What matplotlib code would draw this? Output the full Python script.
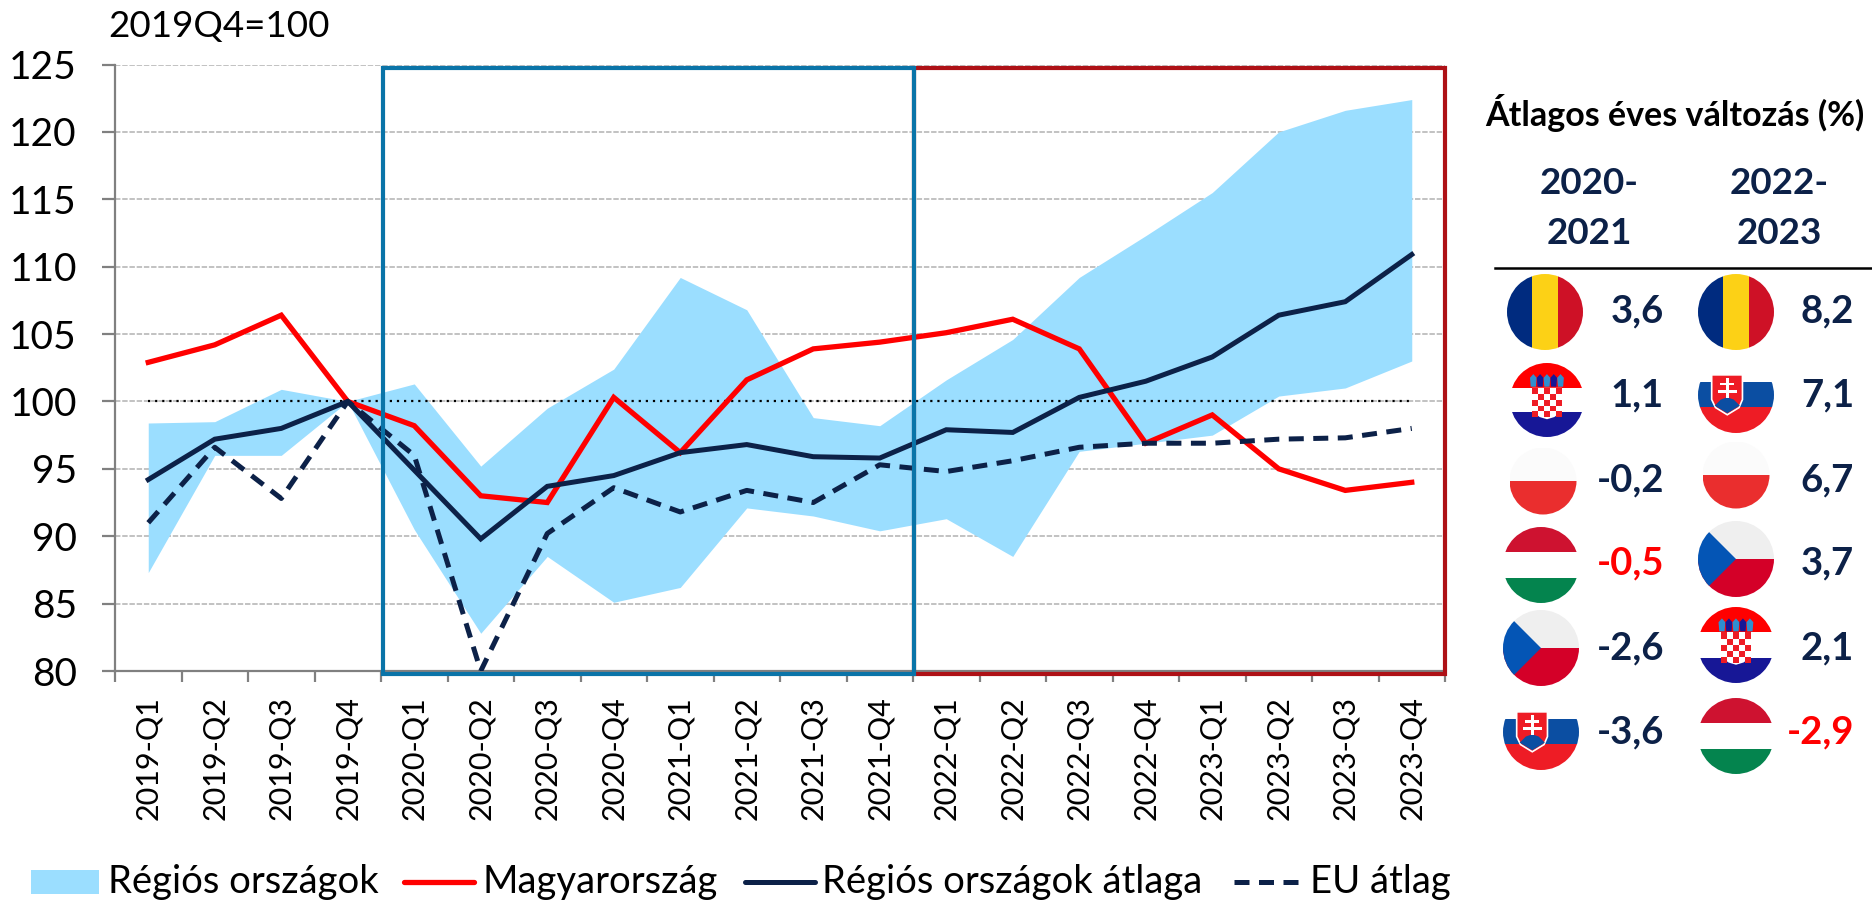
import matplotlib
matplotlib.use("Agg")
import matplotlib.pyplot as plt
from matplotlib.patches import Circle, Rectangle, Polygon

plt.rcParams['font.family'] = ['Lato', 'DejaVu Sans']

# Chart data
quarters = ['2019-Q1', '2019-Q2', '2019-Q3', '2019-Q4',
            '2020-Q1', '2020-Q2', '2020-Q3', '2020-Q4',
            '2021-Q1', '2021-Q2', '2021-Q3', '2021-Q4',
            '2022-Q1', '2022-Q2', '2022-Q3', '2022-Q4',
            '2023-Q1', '2023-Q2', '2023-Q3', '2023-Q4']
hungary = [102.9, 104.2, 106.4, 100.0, 98.2, 93.0, 92.5, 100.3, 96.2, 101.6,
           103.9, 104.4, 105.1, 106.1, 103.9, 96.9, 99.0, 95.0, 93.4, 94.0]
region_avg = [94.2, 97.2, 98.0, 100.0, 94.9, 89.8, 93.7, 94.5, 96.2, 96.8,
              95.9, 95.8, 97.9, 97.7, 100.3, 101.5, 103.3, 106.4, 107.4, 110.9]
eu_avg = [91.0, 96.6, 92.8, 100.0, 96.0, 80.0, 90.2, 93.6, 91.8, 93.4,
          92.5, 95.3, 94.8, 95.6, 96.6, 96.9, 96.9, 97.2, 97.3, 98.0]
region_high = [98.4, 98.5, 100.9, 100.0, 101.3, 95.2, 99.5, 102.4, 109.2, 106.8,
               98.8, 98.2, 101.6, 104.6, 109.2, 112.3, 115.5, 120.0, 121.6, 122.4]
region_low = [87.3, 96.0, 96.0, 100.0, 90.5, 82.8, 88.5, 85.1, 86.2, 92.1,
              91.5, 90.4, 91.3, 88.5, 96.3, 96.9, 97.5, 100.4, 101.0, 103.0]
y_ticks = [80, 85, 90, 95, 100, 105, 110, 115, 120, 125]

# Side table
countries_2021 = ['RO', 'HR', 'PL', 'HU', 'CZ', 'SK']
values_2021 = ['3,6', '1,1', '-0,2', '-0,5', '-2,6', '-3,6']
countries_2023 = ['RO', 'SK', 'PL', 'CZ', 'HR', 'HU']
values_2023 = ['8,2', '7,1', '6,7', '3,7', '2,1', '-2,9']

NAVY = '#0C2148'
RED = '#FF0000'
W, H = 1872, 902

fig = plt.figure(figsize=(W / 100, H / 100), dpi=100)
L, R, T, B = 115, 1445, 64.5, 671
ax = fig.add_axes([L / W, 1 - B / H, (R - L) / W, (B - T) / H])

xs = list(range(len(quarters)))
ax.fill_between(xs, region_low, region_high, color='#9BDEFF', lw=0, zorder=2)
ax.plot([0, 19], [100, 100], color='black', ls=(0, (1, 2.2)), lw=1.6, zorder=3)
ax.plot(xs, hungary, color=RED, lw=3.8, zorder=5, solid_joinstyle='miter')
ax.plot(xs, region_avg, color=NAVY, lw=3.6, zorder=6, solid_joinstyle='miter')
ax.plot(xs, eu_avg, color=NAVY, lw=3.6, ls=(0, (3.0, 1.9)), zorder=6)

ax.set_xlim(-0.5, 19.5)
ax.set_ylim(80, 125)
ax.set_yticks(y_ticks)
ax.tick_params(axis='y', labelsize=28, length=9.5, width=1.6, color='#808080', pad=18)
ax.set_xticks([i - 0.5 for i in range(21)])
ax.set_xticklabels([])
ax.tick_params(axis='x', which='major', length=8, width=1.6, color='#808080')
ax.set_xticks(xs, minor=True)
ax.set_xticklabels(quarters, minor=True, rotation=90, fontsize=22)
ax.tick_params(axis='x', which='minor', length=0, pad=18)
ax.grid(axis='y', color='#BDBDBD', ls=(0, (3, 1)), lw=1.3, zorder=1)
ax.set_axisbelow(True)
for side in ['top', 'right']:
    ax.spines[side].set_visible(False)
for side in ['left', 'bottom']:
    ax.spines[side].set_color('#808080')
    ax.spines[side].set_linewidth(1.6)

# The two period boxes
ax.add_patch(Rectangle((11.52, 79.75), 7.98, 45.0, fill=False, ec='#AE1116', lw=3, clip_on=False, zorder=7))
ax.add_patch(Rectangle((3.53, 79.75), 7.99, 45.0, fill=False, ec='#0A74A8', lw=3, clip_on=False, zorder=8))

# Overlay in pixel coordinates for legend, table and flags
ov = fig.add_axes([0, 0, 1, 1])
ov.set_xlim(0, W)
ov.set_ylim(H, 0)
ov.axis('off')
ov.patch.set_alpha(0)

ov.text(108, 27, '2019Q4=100', fontsize=26.5, va='center', ha='left')

# Legend
leg_y = 882
ov.add_patch(Rectangle((31, 870), 68, 24, fc='#9BDEFF', ec='none'))
ov.text(108, leg_y, 'Régiós országok', fontsize=27.5, va='center', ha='left')
ov.plot([404, 474], [leg_y, leg_y], color=RED, lw=3.8, solid_capstyle='round')
ov.text(482, leg_y, 'Magyarország', fontsize=27.5, va='center', ha='left')
ov.plot([745, 815], [leg_y, leg_y], color=NAVY, lw=3.6, solid_capstyle='round')
ov.text(822, leg_y, 'Régiós országok átlaga', fontsize=27.5, va='center', ha='left')
ov.plot([1234, 1304], [leg_y, leg_y], color=NAVY, lw=3.6, ls=(0, (3.0, 1.9)))
ov.text(1310, leg_y, 'EU átlag', fontsize=27.5, va='center', ha='left')


def flag(kind, cx, cy, r):
    clip = Circle((cx, cy), r, transform=ov.transData)

    def band(x0, y0, w, h, col, z=10):
        p = Rectangle((cx + x0 * r, cy + y0 * r), w * r, h * r, fc=col, ec='none', zorder=z)
        ov.add_patch(p)
        p.set_clip_path(clip)

    def poly(pts, col, z=10, ec='none', lw=0):
        p = Polygon([(cx + a * r, cy + b * r) for a, b in pts], fc=col, ec=ec, lw=lw, zorder=z)
        ov.add_patch(p)
        p.set_clip_path(clip)

    if kind == 'RO':
        band(-1, -1, 2 / 3, 2, '#002B7F')
        band(-1 / 3, -1, 2 / 3, 2, '#FCD116')
        band(1 / 3, -1, 2 / 3, 2, '#CE1126')
    elif kind == 'HU':
        band(-1, -1, 2, 2 / 3, '#CE1230')
        band(-1, -1 / 3, 2, 2 / 3, 'white')
        band(-1, 1 / 3, 2, 2 / 3, '#04844E')
    elif kind == 'PL':
        band(-1, -1, 2, 1, '#FBFBFB')
        band(-1, 0, 2, 1, '#EA2E2E')
    elif kind == 'CZ':
        band(-1, -1, 2, 1, '#EFEFEF')
        band(-1, 0, 2, 1, '#D40028')
        poly([(-1, -1), (0, 0), (-1, 1)], '#0455B5', 11)
    elif kind == 'HR':
        band(-1, -1, 2, 2 / 3, '#FF0000')
        band(-1, -1 / 3, 2, 2 / 3, 'white')
        band(-1, 1 / 3, 2, 2 / 3, '#171796')
        # crown row and chequered shield
        for i in range(5):
            x0 = -0.46 + i * 0.184
            poly([(x0 + 0.02, -0.36), (x0, -0.6), (x0 + 0.09, -0.7), (x0 + 0.18, -0.6), (x0 + 0.16, -0.36)],
                 ['#2F8FD0', '#171796', '#2F8FD0', '#171796', '#2F8FD0'][i], 12)
        poly([(-0.4, -0.33), (0.4, -0.33), (0.4, 0.3), (0.2, 0.46), (0, 0.52), (-0.2, 0.46), (-0.4, 0.3)], 'white', 12)
        for row in range(5):
            for col in range(5):
                if (row + col) % 2 == 0:
                    band(-0.4 + col * 0.16, -0.33 + row * 0.16, 0.16, 0.16, '#EE1C25', 13)
    elif kind == 'SK':
        band(-1, -1, 2, 0.65, 'white')
        band(-1, -0.35, 2, 0.67, '#0B4EA2')
        band(-1, 0.32, 2, 0.7, '#EE1C25')
        sh = [(-0.64, -0.53), (0.17, -0.53), (0.17, 0.12), (0.08, 0.33), (-0.23, 0.52),
              (-0.54, 0.33), (-0.64, 0.12)]
        poly(sh, '#EE1C25', 12, ec='white', lw=1.2)
        poly([(-0.56, 0.28), (-0.4, 0.12), (-0.23, 0.06), (-0.06, 0.12), (0.1, 0.28),
              (-0.23, 0.48)], '#0B4EA2', 13)
        band(-0.27, -0.46, 0.08, 0.54, 'white', 14)
        band(-0.42, -0.32, 0.38, 0.07, 'white', 14)
        band(-0.48, -0.13, 0.5, 0.07, 'white', 14)


# Table
ov.text(1675, 113, 'Átlagos éves változás (%)', fontsize=24.5, fontweight='bold', ha='center', va='center')
ov.text(1589, 183, '2020-', fontsize=26.5, fontweight='bold', color=NAVY, ha='center', va='center')
ov.text(1589, 234, '2021', fontsize=26.5, fontweight='bold', color=NAVY, ha='center', va='center')
ov.text(1779, 183, '2022-', fontsize=26.5, fontweight='bold', color=NAVY, ha='center', va='center')
ov.text(1779, 234, '2023', fontsize=26.5, fontweight='bold', color=NAVY, ha='center', va='center')
ov.plot([1495, 1872], [268, 268], color='black', lw=1.8)

flag_xy_2021 = [(1545, 312, 38), (1547, 400, 37), (1543, 481, 33.5), (1541, 565, 38), (1541, 648, 38), (1541, 732, 38)]
flag_xy_2023 = [(1736, 312, 38), (1736, 395, 38), (1736, 475, 33.5), (1736, 559, 38), (1736, 645, 38), (1736, 736, 38)]
value_y = [311, 395, 480, 563, 648, 732]

for kind, (cx, cy, r) in zip(countries_2021, flag_xy_2021):
    flag(kind, cx, cy, r)
for kind, (cx, cy, r) in zip(countries_2023, flag_xy_2023):
    flag(kind, cx, cy, r)
for val, kind, y in zip(values_2021, countries_2021, value_y):
    ov.text(1664, y, val, fontsize=27.5, fontweight='bold', ha='right', va='center',
            color=RED if kind == 'HU' else NAVY)
for val, kind, y in zip(values_2023, countries_2023, value_y):
    ov.text(1854, y, val, fontsize=27.5, fontweight='bold', ha='right', va='center',
            color=RED if kind == 'HU' else NAVY)

fig.savefig('out.png', dpi=100, facecolor='white')
